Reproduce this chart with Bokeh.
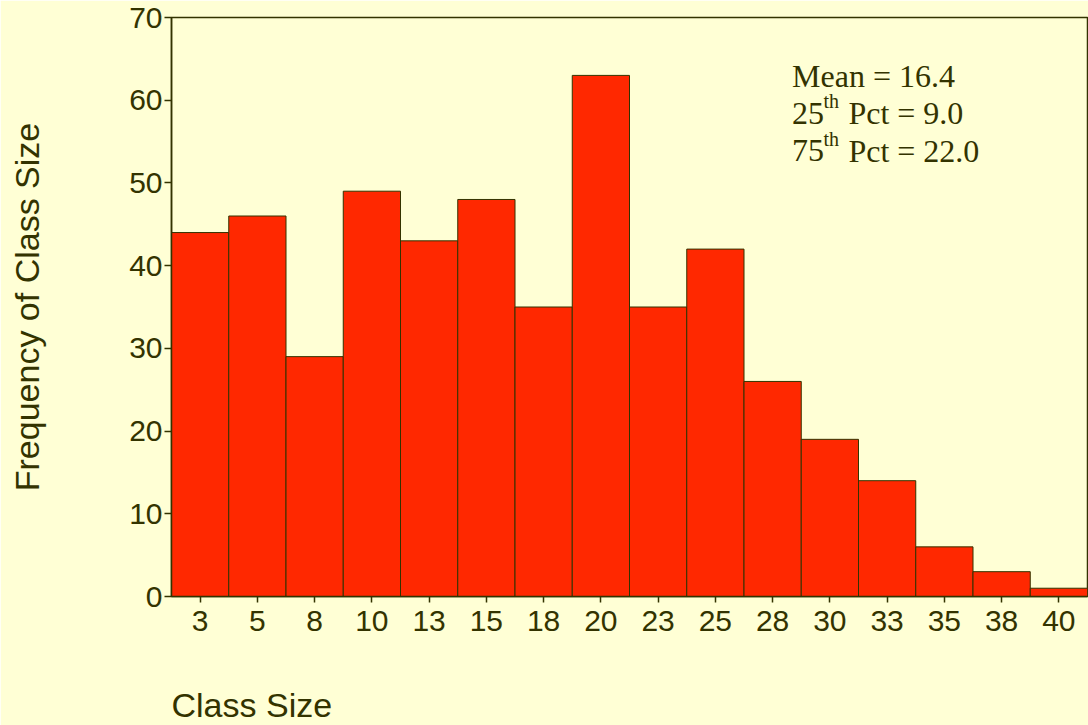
from bokeh.plotting import figure
from bokeh.models import FixedTicker, Range1d, Label, Title
from bokeh.embed import file_html
from bokeh.resources import INLINE

# ---- data ----
bin_edges = [1.5, 4.0, 6.5, 9.0, 11.5, 14.0, 16.5, 19.0, 21.5, 24.0,
             26.5, 29.0, 31.5, 34.0, 36.5, 39.0, 41.5]
tick_labels = ["3", "5", "8", "10", "13", "15", "18", "20", "23", "25",
               "28", "30", "33", "35", "38", "40"]
frequency = [44, 46, 29, 49, 43, 48, 35, 63, 35, 42, 26, 19, 14, 6, 3, 1]
y_ticks = [0, 10, 20, 30, 40, 50, 60, 70]
x_title = "Class Size"
y_title = "Frequency of Class Size"
stat_mean = "Mean = 16.4"
stat_p25 = ("25", "th", "Pct = 9.0")
stat_p75 = ("75", "th", "Pct = 22.0")

BG = "#ffffd5"
INK = "#333300"
RED = "#ff2800"

lefts = bin_edges[:-1]
rights = bin_edges[1:]
centers = [(a + b) / 2 for a, b in zip(lefts, rights)]

p = figure(frame_width=916, frame_height=579,
           min_border_left=171, min_border_right=1,
           min_border_top=17, min_border_bottom=129,
           x_range=Range1d(bin_edges[0], bin_edges[-1]),
           y_range=Range1d(0, 70),
           output_backend="svg", toolbar_location=None)

p.background_fill_color = BG
p.border_fill_color = BG
p.outline_line_color = INK
p.outline_line_width = 1.5
p.xgrid.visible = False
p.ygrid.visible = False

p.quad(left=lefts, right=rights, top=frequency, bottom=0,
       fill_color=RED, line_color=INK, line_width=1)

p.xaxis.ticker = FixedTicker(ticks=centers)
p.xaxis.major_label_overrides = {c: l for c, l in zip(centers, tick_labels)}
p.yaxis.ticker = FixedTicker(ticks=y_ticks)

for ax in (p.xaxis, p.yaxis):
    ax.axis_line_color = INK
    ax.axis_line_width = 1.5
    ax.major_tick_line_color = INK
    ax.major_tick_line_width = 1.5
    ax.major_tick_in = 0
    ax.minor_tick_line_color = None
    ax.major_label_text_font = "Liberation Sans"
    ax.major_label_text_font_size = "30px"
    ax.major_label_text_color = INK

p.xaxis.major_tick_out = 6
p.xaxis.major_label_standoff = 8
p.yaxis.major_tick_out = 7
p.yaxis.major_label_standoff = 2

# y axis title
p.yaxis.axis_label = y_title
p.yaxis.axis_label_text_font = "Liberation Sans"
p.yaxis.axis_label_text_font_size = "34px"
p.yaxis.axis_label_text_font_style = "normal"
p.yaxis.axis_label_text_color = INK
p.yaxis.axis_label_standoff = 80

# x axis title, left aligned below the axis
xt = Title(text=x_title, align="left", offset=0,
           text_font="Liberation Sans", text_font_size="34px",
           text_font_style="normal", text_color=INK, standoff=100)
p.add_layout(xt, "below")

# statistics text
def serif(x, y, t, size="32px"):
    p.add_layout(Label(x=x, y=y, text=t, text_font="Liberation Serif",
                       text_font_size=size, text_color=INK,
                       text_align="left", text_baseline="alphabetic"))

serif(28.6, 62.87, stat_mean)
for base_y, parts in ((58.44, stat_p25), (53.92, stat_p75)):
    serif(28.6, base_y, parts[0])
    serif(29.97, base_y + 1.45, parts[1], size="20px")
    serif(31.06, base_y, parts[2])

open("out.html", "w").write(file_html(p, INLINE))
